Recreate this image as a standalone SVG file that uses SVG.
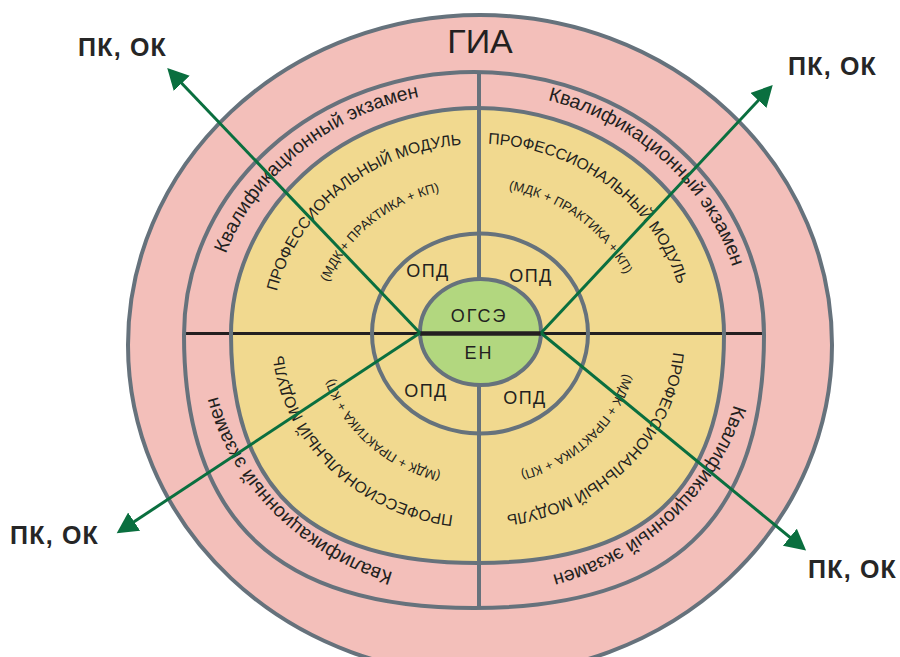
<svg xmlns="http://www.w3.org/2000/svg" xmlns:xlink="http://www.w3.org/1999/xlink" width="900" height="657" viewBox="0 0 900 657">
<style>
  .ring { stroke: #66727c; stroke-width: 4; }
  .lbl { font-family: "Liberation Sans", Arial, sans-serif; fill: #231f20; }
  .pk { font-family: "Liberation Sans", Arial, sans-serif; font-weight: bold; font-size: 25px; letter-spacing: 1.2px; fill: #262626; }
  .pink { font-size: 19.5px; }
  .pm { font-size: 15.7px; }
  .mdk { font-size: 13px; }
  .opd { font-size: 18px; letter-spacing: 1.5px; text-anchor: middle; }
  .arrow { stroke: #0a6f3f; stroke-width: 3; fill: none; marker-end: url(#ah); }
</style>
<defs>
  <marker id="ah" markerUnits="userSpaceOnUse" markerWidth="24" markerHeight="24" refX="17" refY="11" orient="auto">
    <path d="M0,0 L21,11 L0,22 Z" fill="#0a6f3f"/>
  </marker>
  <path id="pTL" d="M266.6,490.1 A267,247 0 0 1 655.7,154.5"/>
  <path id="pTR" d="M309,146.1 A267,247 0 0 1 678.5,500.1"/>
  <path id="pBR" d="M675.4,172.7 A267,247 0 0 1 312.6,532.6"/>
  <path id="pBL" d="M633.9,537.8 A267,247 0 0 1 284.9,166.4"/>
  <path id="mTL" d="M312.7,451.5 A207,192 0 0 1 619.2,195.6"/>
  <path id="mTR" d="M331.6,200.2 A207,192 0 0 1 647.6,446.1"/>
  <path id="mBR" d="M621.4,212.6 A196,181 0 0 1 360,480.5"/>
  <path id="mBL" d="M598.7,478.6 A196,181 0 0 1 332.4,214.9"/>
  <path id="dTL" d="M351.1,427.7 A161,149 0 0 1 585.7,225.3"/>
  <path id="dTR" d="M364.2,230.6 A161,149 0 0 1 609.9,421.5"/>
  <path id="dBR" d="M591,241.7 A152,141 0 0 1 384.4,447.1"/>
  <path id="dBL" d="M575.7,444 A152,141 0 0 1 361.6,245.4"/>
  <path id="examShape" d="M764,335 C764,520 670.6,608 474,608 C277.4,608 184,520 184,335 A290,263 0 0 1 764,335 Z"/>
  <path id="moduleShape" d="M724,335 C724,489.6 644.6,563 477.5,563 C310.4,563 231,489.6 231,335 A246.5,227 0 0 1 724,335 Z"/>
</defs>

<g id="gia-ring">
  <ellipse cx="480" cy="345" rx="352" ry="330" fill="#f3bfba" class="ring" stroke-width="3.5"/>
  <text class="lbl" x="480" y="53" font-size="34" text-anchor="middle">ГИА</text>
</g>

<g id="exam-ring">
  <use xlink:href="#examShape" href="#examShape" fill="#f3bfba"/>
</g>
<g id="module-ring">
  <use xlink:href="#moduleShape" href="#moduleShape" fill="#f1d98f"/>
</g>

<g id="dividers">
  <line x1="186" y1="333.5" x2="763" y2="333.5" stroke="#231f20" stroke-width="3"/>
  <line x1="479" y1="72" x2="479" y2="282" class="ring"/>
  <line x1="479" y1="382" x2="479" y2="607" class="ring"/>
</g>

<g id="ring-strokes" fill="none">
  <use xlink:href="#examShape" href="#examShape" class="ring"/>
  <use xlink:href="#moduleShape" href="#moduleShape" class="ring"/>
</g>

<g id="opd">
  <ellipse cx="480" cy="333.5" rx="108" ry="100" fill="none" class="ring"/>
  <text class="lbl opd" x="428" y="277">ОПД</text>
  <text class="lbl opd" x="531" y="282">ОПД</text>
  <text class="lbl opd" x="426" y="397">ОПД</text>
  <text class="lbl opd" x="525" y="404">ОПД</text>
</g>

<g id="core">
  <ellipse cx="480.5" cy="332" rx="60.5" ry="53" fill="#b2d77f" class="ring"/>
  <line x1="420" y1="333.5" x2="541" y2="333.5" stroke="#231f20" stroke-width="4.5"/>
  <text class="lbl" x="479" y="322" font-size="18" letter-spacing="2" text-anchor="middle">ОГСЭ</text>
  <text class="lbl" x="479" y="359" font-size="18" letter-spacing="2" text-anchor="middle">ЕН</text>
</g>

<g id="exam-labels" class="lbl pink">
  <text><textPath xlink:href="#pTL" href="#pTL" startOffset="50%" text-anchor="middle">Квалификационный экзамен</textPath></text>
  <text><textPath xlink:href="#pTR" href="#pTR" startOffset="50%" text-anchor="middle">Квалификационный экзамен</textPath></text>
  <text><textPath xlink:href="#pBR" href="#pBR" startOffset="50%" text-anchor="middle">Квалификационный экзамен</textPath></text>
  <text><textPath xlink:href="#pBL" href="#pBL" startOffset="50%" text-anchor="middle">Квалификационный экзамен</textPath></text>
</g>

<g id="module-labels" class="lbl">
  <text class="pm"><textPath xlink:href="#mTL" href="#mTL" startOffset="50%" text-anchor="middle">ПРОФЕССИОНАЛЬНЫЙ МОДУЛЬ</textPath></text>
  <text class="pm"><textPath xlink:href="#mTR" href="#mTR" startOffset="50%" text-anchor="middle">ПРОФЕССИОНАЛЬНЫЙ МОДУЛЬ</textPath></text>
  <text class="pm"><textPath xlink:href="#mBR" href="#mBR" startOffset="50%" text-anchor="middle">ПРОФЕССИОНАЛЬНЫЙ МОДУЛЬ</textPath></text>
  <text class="pm" font-size="15"><textPath xlink:href="#mBL" href="#mBL" startOffset="50%" text-anchor="middle">ПРОФЕССИОНАЛЬНЫЙ МОДУЛЬ</textPath></text>
  <text class="mdk"><textPath xlink:href="#dTL" href="#dTL" startOffset="50%" text-anchor="middle">(МДК + ПРАКТИКА + КП)</textPath></text>
  <text class="mdk"><textPath xlink:href="#dTR" href="#dTR" startOffset="50%" text-anchor="middle">(МДК + ПРАКТИКА + КП)</textPath></text>
  <text class="mdk"><textPath xlink:href="#dBR" href="#dBR" startOffset="50%" text-anchor="middle">(МДК + ПРАКТИКА + КП)</textPath></text>
  <text class="mdk"><textPath xlink:href="#dBL" href="#dBL" startOffset="50%" text-anchor="middle">(МДК + ПРАКТИКА + КП)</textPath></text>
</g>

<g id="connectors">
  <line class="arrow" x1="420" y1="333" x2="170" y2="71"/>
  <line class="arrow" x1="541" y1="333" x2="770" y2="88"/>
  <line class="arrow" x1="420" y1="333" x2="120" y2="531"/>
  <line class="arrow" x1="541" y1="333" x2="803" y2="548"/>
</g>

<g id="pk-labels">
  <text class="pk" x="78" y="56">ПК, ОК</text>
  <text class="pk" x="788" y="75">ПК, ОК</text>
  <text class="pk" x="10" y="544">ПК, ОК</text>
  <text class="pk" x="808" y="578">ПК, ОК</text>
</g>
</svg>
